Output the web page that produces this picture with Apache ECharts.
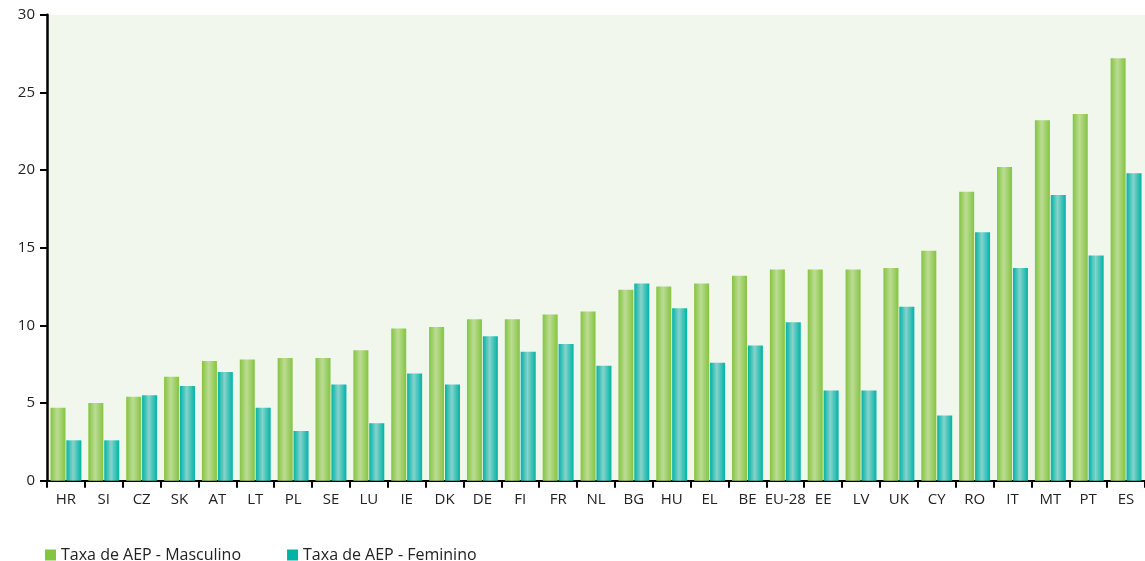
<!DOCTYPE html>
<html>
<head>
<meta charset="utf-8">
<script src="https://cdn.jsdelivr.net/npm/echarts@6/dist/echarts.min.js"></script>
<style>
html,body{margin:0;padding:0;background:#fff;}
#c{width:1145px;height:561px;}
</style>
</head>
<body>
<div id="c"></div>
<script>
const categories = ['HR','SI','CZ','SK','AT','LT','PL','SE','LU','IE','DK','DE','FI','FR','NL','BG','HU','EL','BE','EU-28','EE','LV','UK','CY','RO','IT','MT','PT','ES'];
const masculino = [4.7,5.0,5.4,6.7,7.7,7.8,7.9,7.9,8.4,9.8,9.9,10.4,10.4,10.7,10.9,12.3,12.5,12.7,13.2,13.6,13.6,13.6,13.7,14.8,18.6,20.2,23.2,23.6,27.2];
const feminino = [2.6,2.6,5.5,6.1,7.0,4.7,3.2,6.2,3.7,6.9,6.2,9.3,8.3,8.8,7.4,12.7,11.1,7.6,8.7,10.2,5.8,5.8,11.2,4.2,16.0,13.7,18.4,14.5,19.8];
const yTicks = {min: 0, max: 30, interval: 5};
const seriesNames = ['Taxa de AEP - Masculino', 'Taxa de AEP - Feminino'];

const FONT = '"Open Sans", "Noto Sans", sans-serif';
function grad(base, light) {
  return new echarts.graphic.LinearGradient(0, 0, 1, 0, [
    {offset: 0, color: base},
    {offset: 0.45, color: light},
    {offset: 1, color: base}
  ]);
}
const chart = echarts.init(document.getElementById('c'), null, {renderer: 'canvas'});
chart.setOption({
  animation: false,
  backgroundColor: '#ffffff',
  color: ['#84c441', '#00b3a6'],
  grid: {
    left: 47, top: 14.7, width: 1102, bottom: 80.3,
    show: true, backgroundColor: '#f1f7ec', borderWidth: 0
  },
  legend: {
    left: 40, top: 542,
    itemWidth: 11, itemHeight: 11, itemGap: 46,
    icon: 'rect',
    textStyle: {fontFamily: FONT, fontSize: 16, color: '#222'},
    data: [
      {name: seriesNames[0], itemStyle: {color: '#84c441'}},
      {name: seriesNames[1], itemStyle: {color: '#00b3a6'}}
    ]
  },
  xAxis: {
    type: 'category',
    data: categories,
    boundaryGap: true,
    axisLine: {lineStyle: {color: '#000', width: 2}},
    axisTick: {show: true, alignWithLabel: false, length: 7, lineStyle: {color: '#000', width: 2}},
    axisLabel: {interval: 0, fontFamily: FONT, fontSize: 15, color: '#222', margin: 12},
    splitLine: {show: false}
  },
  yAxis: {
    type: 'value',
    min: yTicks.min, max: yTicks.max, interval: yTicks.interval,
    axisLine: {show: true, lineStyle: {color: '#000', width: 2.5}},
    axisTick: {show: true, length: 7, lineStyle: {color: '#000', width: 2}},
    axisLabel: {fontFamily: FONT, fontSize: 15, color: '#222', margin: 12},
    splitLine: {show: false}
  },
  series: [
    {
      name: seriesNames[0], type: 'bar', data: masculino,
      barWidth: 15, barGap: '6%',
      itemStyle: {color: grad('#84c441', '#bcdc94')}
    },
    {
      name: seriesNames[1], type: 'bar', data: feminino,
      barWidth: 15,
      itemStyle: {color: grad('#00b3a6', '#86d3cb')}
    }
  ]
});
</script>
</body>
</html>
